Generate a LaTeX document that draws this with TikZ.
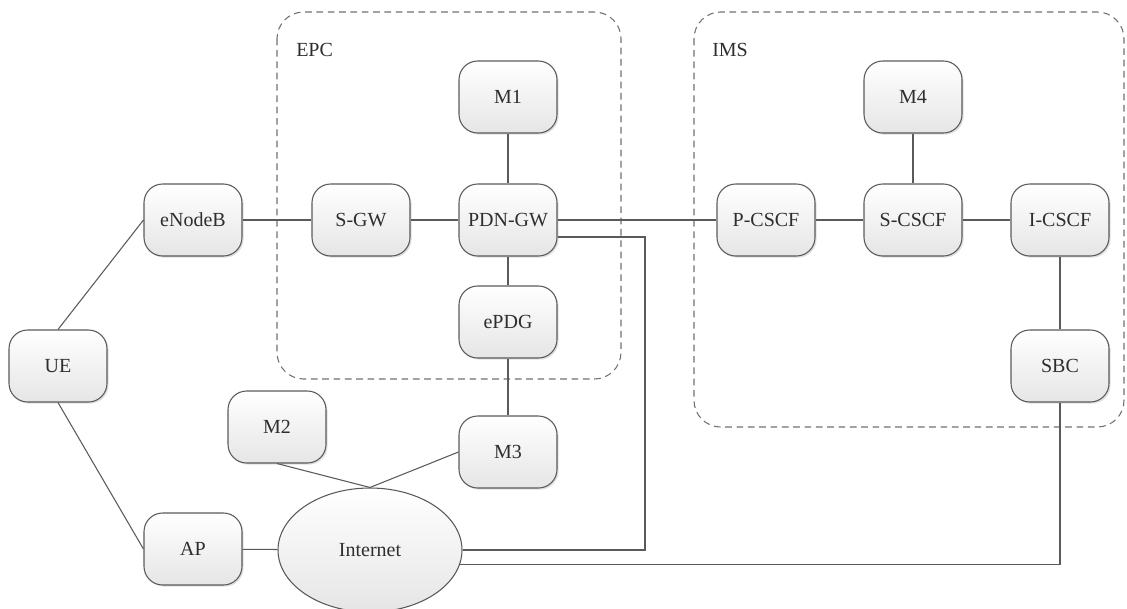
\documentclass[tikz,border=0pt]{standalone}
\usepackage{fontspec}
\setmainfont{Liberation Serif}
\usetikzlibrary{shapes.geometric,shadows}
\definecolor{edgegray}{HTML}{5A5A5A}
\definecolor{dashgray}{HTML}{707070}
\definecolor{txtgray}{HTML}{2E2E2E}
\tikzset{
  elem/.style={draw=edgegray, line width=0.8pt, rounded corners=14pt,
    top color=white, bottom color=black!10,
    minimum width=73.5pt, minimum height=54pt, inner sep=0pt,
    text=txtgray, font=\fontsize{15}{18}\selectfont,
    drop shadow={shadow xshift=1.2pt, shadow yshift=-1.2pt, fill=black!25, opacity=0.5}},
  inetshape/.style={ellipse, draw=edgegray, line width=0.8pt,
    top color=white, bottom color=black!10,
    minimum width=138pt, minimum height=93pt, inner sep=0pt,
    text=txtgray, font=\fontsize{15}{18}\selectfont},
  conn/.style={draw=edgegray, line width=0.8pt},
  groupbox/.style={draw=dashgray, line width=0.8pt, dash pattern=on 5pt off 3.5pt, rounded corners=20pt},
  grouplabel/.style={text=txtgray, font=\fontsize{15}{18}\selectfont, anchor=west, inner sep=0pt}
}
\begin{document}
\begin{tikzpicture}[x=0.75pt, y=-0.75pt]
\useasboundingbox (0,0) rectangle (1127,608);
% domains
\draw[groupbox] (277,12) rectangle (621,379);
\draw[groupbox] (694,12) rectangle (1124,427);
\node[grouplabel] (epcl) at (296,50) {EPC};
\node[grouplabel] (imsl) at (712,50) {IMS};
% nodes
\node[elem] (ue) at (58,366) {UE};
\node[elem] (enb) at (193,220) {eNodeB};
\node[elem] (ap) at (193,549) {AP};
\node[elem] (sgw) at (361,220) {S-GW};
\node[elem] (pdn) at (508,220) {PDN-GW};
\node[elem] (m1) at (508,97) {M1};
\node[elem] (epdg) at (508,322) {ePDG};
\node[elem] (m2) at (277,427) {M2};
\node[elem] (m3) at (508,452) {M3};
\node[inetshape] (inet) at (370,550) {Internet};
\node[elem] (pcscf) at (766,220) {P-CSCF};
\node[elem] (scscf) at (913,220) {S-CSCF};
\node[elem] (icscf) at (1060,220) {I-CSCF};
\node[elem] (m4) at (913,97) {M4};
\node[elem] (sbc) at (1060,366) {SBC};
% helper coordinates
\coordinate (pdnout) at (645,237);
\coordinate (inetA) at (inet.east);
\coordinate (inetB) at (inet.-9.5);
% connectors
\draw[conn] (ue.north) -- (enb.west);
\draw[conn] (ue.south) -- (ap.west);
\draw[conn] (enb) -- (sgw);
\draw[conn] (sgw) -- (pdn);
\draw[conn] (pdn) -- (pcscf);
\draw[conn] (pcscf) -- (scscf);
\draw[conn] (scscf) -- (icscf);
\draw[conn] (m1) -- (pdn);
\draw[conn] (pdn) -- (epdg);
\draw[conn] (epdg) -- (m3);
\draw[conn] (m4) -- (scscf);
\draw[conn] (icscf) -- (sbc);
\draw[conn] (ap) -- (inet);
\draw[conn] (m2.south) -- (inet.north);
\draw[conn] (m3.west) -- (inet.north);
\draw[conn] (pdn.east |- pdnout) -- (pdnout) -- (pdnout |- inetA) -- (inetA);
\draw[conn] (sbc.south) |- (inetB);
\end{tikzpicture}
\end{document}
